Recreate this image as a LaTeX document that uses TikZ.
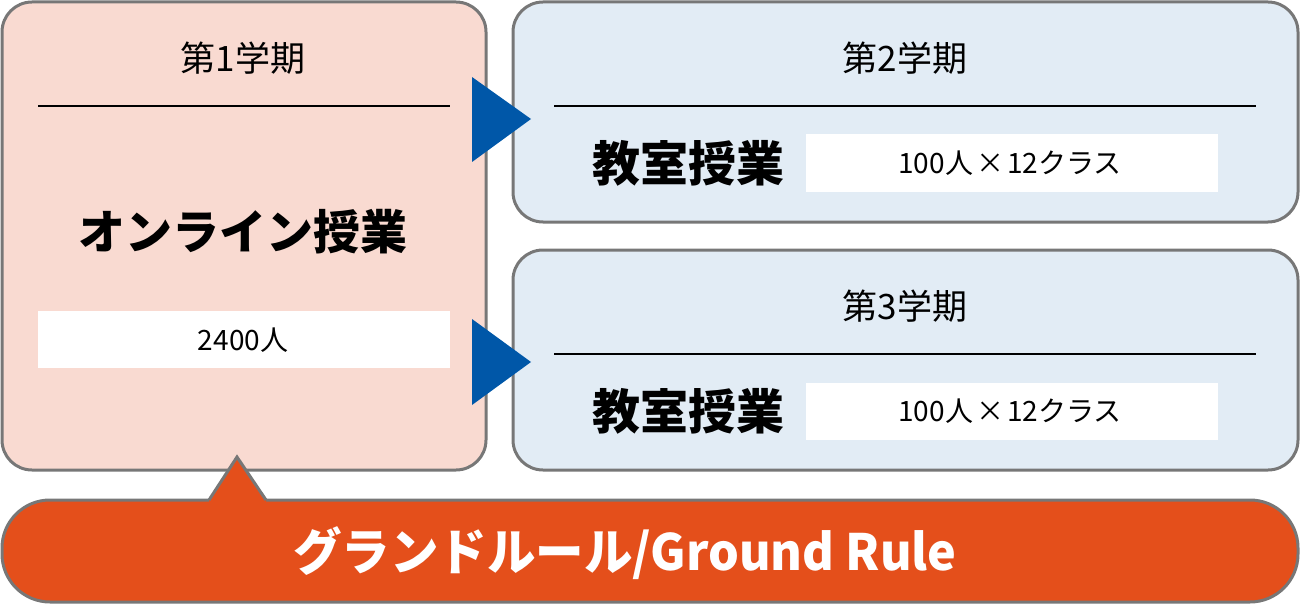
\documentclass[tikz,border=0pt]{standalone}
\usepackage{fontspec}
\usepackage{graphicx}
\newfontfamily\jp{Noto Sans CJK JP}
\definecolor{pinkfill}{HTML}{F9DAD1}
\definecolor{bluefill}{HTML}{E2ECF5}
\definecolor{bordergray}{HTML}{777777}
\definecolor{orangefill}{HTML}{E44F1B}
\definecolor{arrowblue}{HTML}{0057A8}
\tikzset{
  panel/.style={draw=bordergray, line width=3pt, rounded corners=30pt},
  rulerline/.style={draw=black, line width=1.5pt},
  whitebox/.style={fill=white, draw=none},
  titletext/.style={font=\jp\fontsize{35}{40}\selectfont, text=black, inner sep=0pt},
  bigtext/.style={font=\jp\bfseries\fontsize{47}{52}\selectfont, text=black, inner sep=0pt},
  smalltext/.style={font=\jp\fontsize{28}{32}\selectfont, text=black, inner sep=0pt},
  flowtri/.style={fill=arrowblue, draw=none},
}
\begin{document}
\begin{tikzpicture}[x=1pt, y=-1pt]
\useasboundingbox (0,0) rectangle (1300,604);
% left panel
\path[panel, fill=pinkfill] (2,2) rectangle (486,470);
\node[titletext] (t1) at (243,58) {第1学期};
\coordinate (l1a) at (38,106); \coordinate (l1b) at (450,106);
\draw[rulerline] (l1a) -- (l1b);
\node[bigtext] (online) at (243,232) {オンライン授業};
\path[whitebox] (38,311) rectangle (450,368);
\node[smalltext] (n2400) at (243,340) {2400人};
% top right panel
\path[panel, fill=bluefill] (513,2) rectangle (1298,222);
\node[titletext] (t2) at (905,58) {第2学期};
\coordinate (l2a) at (554,106); \coordinate (l2b) at (1256,106);
\draw[rulerline] (l2a) -- (l2b);
\node[bigtext, font=\jp\bfseries\fontsize{48}{52}\selectfont] (k2) at (688,163) {教室授業};
\path[whitebox] (806,134) rectangle (1218,192);
\node[smalltext] (c2) at (1010,163) {100人\kern3pt×\kern3pt12クラス};
% bottom right panel
\path[panel, fill=bluefill] (513,250) rectangle (1298,470);
\node[titletext] (t3) at (905,306) {第3学期};
\coordinate (l3a) at (554,354); \coordinate (l3b) at (1256,354);
\draw[rulerline] (l3a) -- (l3b);
\node[bigtext, font=\jp\bfseries\fontsize{48}{52}\selectfont] (k3) at (688,411) {教室授業};
\path[whitebox] (806,383) rectangle (1218,440);
\node[smalltext] (c3) at (1010,411) {100人\kern3pt×\kern3pt12クラス};
% blue triangles
\path[flowtri] (472,77) -- (531,119) -- (472,162) -- cycle;
\path[flowtri] (472,319) -- (531,362) -- (472,405) -- cycle;
% banner
\path[draw=bordergray, line width=3pt, fill=orangefill, rounded corners=48pt] (2,500) rectangle (1298,602);
\path[fill=orangefill] (209,500) -- (237,457) -- (266,500) -- (266,504) -- (209,504) -- cycle;
\draw[bordergray, line width=3pt, line join=miter] (209,500) -- (237,457) -- (266,500);
\node[font=\jp\bfseries\fontsize{50}{56}\selectfont, text=white, inner sep=0pt] (gr) at (625,553) {\scalebox{0.97}[1]{グランドルール/Ground Rule}};
\end{tikzpicture}
\end{document}
